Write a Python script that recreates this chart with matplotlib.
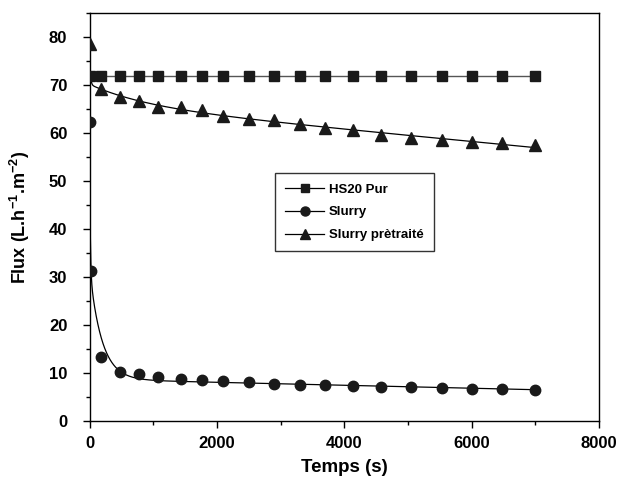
import numpy as np
import matplotlib
matplotlib.use("Agg")
import matplotlib.pyplot as plt
from matplotlib.ticker import MultipleLocator
from matplotlib.lines import Line2D

# ---- data ----
t_hs20 = [0, 180, 480, 770, 1070, 1430, 1770, 2100, 2500, 2900, 3300, 3700,
          4130, 4580, 5040, 5540, 6010, 6480, 7000]
flux_hs20 = [72.0] * 19

t_slurry = [0, 25, 180, 480, 770, 1070, 1430, 1770, 2100, 2500, 2900, 3300,
            3700, 4130, 4580, 5040, 5540, 6010, 6480, 7000]
flux_slurry = [62.3, 31.3, 13.2, 10.2, 9.7, 9.2, 8.7, 8.5, 8.3, 8.1, 7.7, 7.5,
               7.5, 7.2, 7.1, 7.0, 6.8, 6.7, 6.6, 6.4]

t_pret = [0, 180, 480, 770, 1070, 1430, 1770, 2100, 2500, 2900, 3300, 3700,
          4130, 4580, 5040, 5540, 6010, 6480, 7000]
flux_pret = [78.6, 69.3, 67.6, 66.7, 65.4, 65.4, 64.9, 63.5, 62.9, 62.8, 61.9,
             61.0, 60.6, 59.6, 59.0, 58.6, 58.2, 57.9, 57.5]

labels = ["HS20 Pur", "Slurry", "Slurry prètraité"]

plt.rcParams['font.family'] = ['Liberation Sans', 'DejaVu Sans']
plt.rcParams['font.weight'] = 'bold'
plt.rcParams['mathtext.fontset'] = 'custom'
plt.rcParams['mathtext.rm'] = 'Liberation Sans:bold'
plt.rcParams['mathtext.bf'] = 'Liberation Sans:bold'
plt.rcParams['mathtext.default'] = 'bf'


def smooth_fit(t, y, taus, w_first):
    """Weighted least-squares smooth curve (constant + linear + exponentials)."""
    t = np.asarray(t, float)
    y = np.asarray(y, float)
    def basis(x):
        cols = [np.ones_like(x), x] + [np.exp(-x / k) for k in taus]
        return np.column_stack(cols)
    w = np.ones_like(t)
    w[:len(w_first)] = w_first
    coef, *_ = np.linalg.lstsq(basis(t) * w[:, None], y * w, rcond=None)
    tt = np.unique(np.concatenate([np.linspace(0, 400, 800),
                                   np.linspace(t.min(), t.max(), 1500)]))
    return tt, basis(tt) @ coef


fig = plt.figure(figsize=(6.23, 4.82), dpi=100)
ax = fig.add_axes([0.1437, 0.1272, 0.8178, 0.8452])

mc = '#1a1a1a'
# HS20 Pur
ax.plot(t_hs20, flux_hs20, color='#555555', lw=1.0, zorder=2)
ax.plot(t_hs20, flux_hs20, ls='none', marker='s', ms=7.5, color=mc, zorder=3)

# Slurry
tt, yy = smooth_fit(t_slurry, flux_slurry, [10, 190], [20, 20])
ax.plot(tt, yy, color='black', lw=0.9, zorder=2)
ax.plot(t_slurry, flux_slurry, ls='none', marker='o', ms=7.5, color=mc, zorder=3)

# Slurry prètraité
tt, yy = smooth_fit(t_pret, flux_pret, [12, 900], [20])
ax.plot(tt, yy, color='black', lw=0.9, zorder=2)
ax.plot(t_pret, flux_pret, ls='none', marker='^', ms=8, color=mc, zorder=3)

ax.set_xlim(0, 8000)
ax.set_ylim(0, 85)
ax.xaxis.set_major_locator(MultipleLocator(2000))
ax.xaxis.set_minor_locator(MultipleLocator(1000))
ax.set_yticks(np.arange(0, 81, 10))
ax.yaxis.set_minor_locator(MultipleLocator(5))
ax.tick_params(which='major', direction='out', length=5, width=1, labelsize=12)
ax.tick_params(axis='y', which='major', pad=11)
ax.tick_params(axis='x', which='major', pad=6)
ax.tick_params(which='minor', direction='out', length=3.2, width=1)
for lab in ax.get_xticklabels() + ax.get_yticklabels():
    lab.set_fontweight('bold')
for s in ax.spines.values():
    s.set_linewidth(1.0)

ax.set_xlabel("Temps (s)", fontsize=13.5, fontweight='bold', labelpad=6)
ax.set_ylabel(r"Flux (L.h$^{-1}$.m$^{-2}$)", fontsize=13, fontweight='bold', labelpad=12)

handles = [Line2D([], [], color='black', lw=0.9, marker=m, ms=ms, mfc=mc, mec=mc)
           for m, ms in [('s', 6), ('o', 6.5), ('^', 6.5)]]
leg = ax.legend(handles, labels, loc='upper left', bbox_to_anchor=(0.364, 0.607),
                borderaxespad=0, frameon=True, fancybox=False, edgecolor='black',
                prop={'weight': 'bold', 'size': 9.5}, handlelength=3.0,
                handletextpad=0.35, labelspacing=0.8, borderpad=0.75)
leg.get_frame().set_linewidth(1.0)

fig.savefig("out.png", dpi=100)
